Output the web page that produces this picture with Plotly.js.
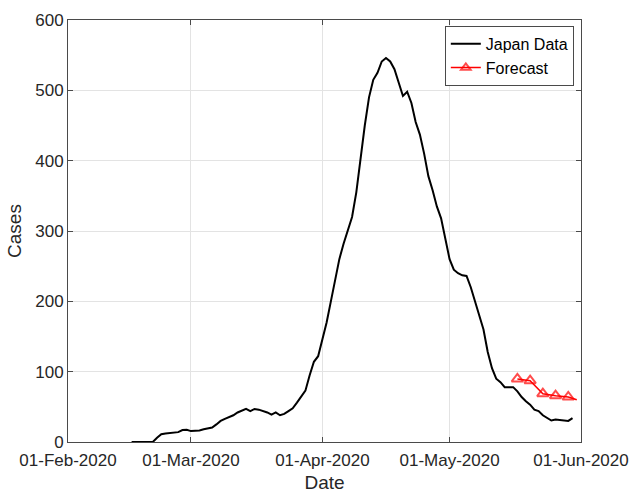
<!DOCTYPE html>
<html>
<head>
<meta charset="utf-8">
<script src="https://cdn.plot.ly/plotly-3.0.1.min.js"></script>
<style>
  html, body { margin: 0; padding: 0; background: #ffffff; }
  #chart { width: 632px; height: 493px; }
</style>
</head>
<body>
<div id="chart"></div>
<script>
// Daily reported cases in Japan (smoothed), one value per day from startDate
const startDate = '2020-02-16';
const japanCases = [
  0, 0, 0, 0, 0, 0, 6, 11, 12, 12.5,
  13, 14, 17, 17.5, 15.5, 15.5, 16.5, 18, 19.5, 20.5,
  25, 30, 33, 35, 38, 42, 45, 47, 44, 47,
  46, 44.5, 42, 39, 42, 38, 40, 44, 48, 56,
  65, 73, 95, 114, 122, 145, 170, 200, 230, 260,
  282, 302, 320, 355, 405, 450, 490, 515, 525, 541,
  546, 541, 530, 512, 492, 498, 482, 455, 437, 410,
  378, 358, 335, 318, 287, 260, 245, 240, 237, 236,
  220, 200, 183, 160, 128, 105, 90, 85, 78, 78,
  78, 72, 64, 58, 53, 46, 44, 38, 34, 30.5,
  32, 31, 30.5, 30, 34
];

// Forecast points; the last one carries no marker
const forecastDates = ['2020-05-17', '2020-05-20', '2020-05-23', '2020-05-26', '2020-05-29', '2020-05-31'];
const forecastCases = [89.6, 87.2, 68.7, 65.8, 64, 60];
const forecastMarked = [true, true, true, true, true, false];

// Axis ticks
const monthTicks = ['2020-02-01', '2020-03-01', '2020-04-01', '2020-05-01', '2020-06-01'];
const monthLabels = ['01-Feb-2020', '01-Mar-2020', '01-Apr-2020', '01-May-2020', '01-Jun-2020'];
const caseTicks = [0, 100, 200, 300, 400, 500, 600];

function dayAfter(start, n) {
  const d = new Date(start + 'T00:00:00Z');
  d.setUTCDate(d.getUTCDate() + n);
  return d.toISOString().slice(0, 10);
}
const japanDates = japanCases.map((_, i) => dayAfter(startDate, i));

const axisColor = '#262626';
const frameColor = '#4a4a4a';
const gridColor = '#e3e3e3';
const font = 'Liberation Sans, Arial, Helvetica, sans-serif';

const traces = [
  {
    x: japanDates,
    y: japanCases,
    type: 'scatter',
    mode: 'lines',
    name: 'Japan Data',
    line: { color: '#000000', width: 2 }
  },
  {
    x: forecastDates,
    y: forecastCases,
    type: 'scatter',
    mode: 'lines+markers',
    name: 'Forecast',
    line: { color: '#ff0000', width: 1.5 },
    marker: {
      symbol: 'triangle-up-open',
      color: '#ff0000',
      size: forecastMarked.map(m => (m ? 10 : 0)),
      line: { color: '#ff0000', width: 2 }
    }
  }
];

const layout = {
  width: 632,
  height: 493,
  margin: { l: 68, r: 51, t: 20, b: 51 },
  paper_bgcolor: '#ffffff',
  plot_bgcolor: '#ffffff',
  font: { family: font, size: 17, color: axisColor },
  showlegend: true,
  legend: {
    x: 0.986, y: 0.986, xanchor: 'right', yanchor: 'top',
    bgcolor: '#ffffff',
    bordercolor: frameColor,
    borderwidth: 1,
    font: { family: font, size: 16, color: '#000000' },
    tracegroupgap: 0,
    itemwidth: 30
  },
  xaxis: {
    type: 'date',
    range: ['2020-02-01', '2020-06-01'],
    tickvals: monthTicks,
    ticktext: monthLabels,
    ticks: 'inside',
    ticklen: 5,
    tickcolor: frameColor,
    ticklabelstandoff: 3,
    showline: true,
    linecolor: frameColor,
    linewidth: 1,
    mirror: 'ticks',
    showgrid: true,
    gridcolor: gridColor,
    zeroline: false,
    tickfont: { family: font, size: 17, color: axisColor },
    title: { text: 'Date', font: { family: font, size: 19, color: axisColor }, standoff: 6 }
  },
  yaxis: {
    range: [0, 600],
    tickvals: caseTicks,
    ticks: 'inside',
    ticklen: 5,
    tickcolor: frameColor,
    showline: true,
    linecolor: frameColor,
    linewidth: 1,
    mirror: 'ticks',
    showgrid: true,
    gridcolor: gridColor,
    zeroline: false,
    tickfont: { family: font, size: 17, color: axisColor },
    title: { text: 'Cases', font: { family: font, size: 19, color: axisColor }, standoff: 8 }
  }
};

Plotly.newPlot('chart', traces, layout, { displayModeBar: false, staticPlot: true });
</script>
</body>
</html>
